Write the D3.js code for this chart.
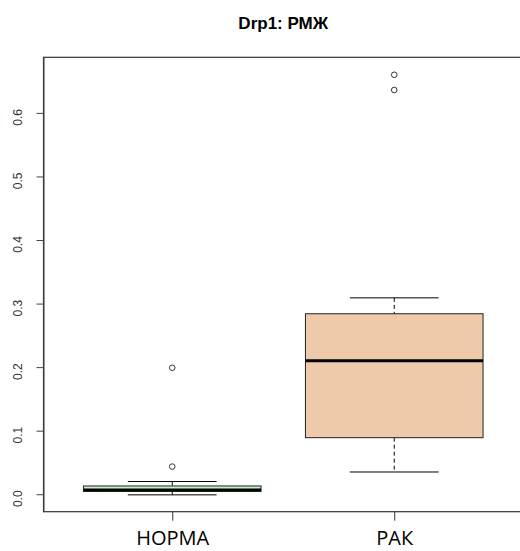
<!DOCTYPE html>
<html>
<head>
<meta charset="utf-8">
<script src="https://cdn.jsdelivr.net/npm/d3@7"></script>
<style>
  body { margin: 0; background: #fff; }
  svg { display: block; }
</style>
</head>
<body>
<svg id="chart" width="520" height="551"></svg>
<script>
// groups and their five-number summaries
const groups = ["НОРМА", "РАК"]
const lowWhisker = [-0.001, 0.035]
const q1 = [0.0045, 0.089]
const medians = [0.0068, 0.210]
const q3 = [0.013, 0.284]
const highWhisker = [0.020, 0.309]
const outliers = [[0.0435, 0.199], [0.636, 0.660]]
const fills = ["#c6f0c0", "#eecaab"]
const yTicks = [0, 0.1, 0.2, 0.3, 0.4, 0.5, 0.6]

const width = 520, height = 551
const padLeft = 43.5, padRight = 523, padTop = 57.3, padBottom = 511.7

const svg = d3.select("#chart")

// R style: data range plus 4% on each side
const ymin = -0.001, ymax = 0.661
const ext = (ymax - ymin) * 0.04
const y = d3.scaleLinear().domain([ymin - ext, ymax + ext]).range([padBottom, padTop])
const x = d3.scaleLinear().domain([0.42, 2.58]).range([padLeft, padRight])

const boxW = x(1.4) - x(1)   // half width of a box
const capW = boxW / 2

// title
svg.append("text")
  .attr("x", (padLeft + padRight) / 2)
  .attr("y", 29)
  .attr("text-anchor", "middle")
  .attr("font-family", "Liberation Sans, Arial, sans-serif")
  .attr("font-weight", "bold")
  .attr("font-size", 17)
  .text("Drp1: РМЖ")

// frame
svg.append("rect")
  .attr("x", padLeft).attr("y", padTop)
  .attr("width", padRight - padLeft).attr("height", padBottom - padTop)
  .attr("fill", "none").attr("stroke", "#333").attr("stroke-width", 1.2)

// boxes
const g = svg.append("g")
groups.forEach((name, i) => {
  const cx = x(i + 1)
  // whiskers dashed
  g.append("line")
    .attr("x1", cx).attr("x2", cx)
    .attr("y1", y(highWhisker[i])).attr("y2", y(q3[i]))
    .attr("stroke", "#000").attr("stroke-dasharray", "4,3")
  g.append("line")
    .attr("x1", cx).attr("x2", cx)
    .attr("y1", y(q1[i])).attr("y2", y(lowWhisker[i]))
    .attr("stroke", "#000").attr("stroke-dasharray", "4,3")
  // caps
  ;[highWhisker[i], lowWhisker[i]].forEach(v => {
    g.append("line")
      .attr("x1", cx - capW).attr("x2", cx + capW)
      .attr("y1", y(v)).attr("y2", y(v))
      .attr("stroke", "#000")
  })
  g.append("rect")
    .attr("x", cx - boxW).attr("y", y(q3[i]))
    .attr("width", boxW * 2).attr("height", y(q1[i]) - y(q3[i]))
    .attr("fill", fills[i]).attr("stroke", "#222").attr("stroke-width", 1)
  g.append("line")
    .attr("x1", cx - boxW).attr("x2", cx + boxW)
    .attr("y1", y(medians[i])).attr("y2", y(medians[i]))
    .attr("stroke", "#000").attr("stroke-width", 3)
  // outliers
  g.selectAll(null).data(outliers[i]).enter().append("circle")
    .attr("cx", cx).attr("cy", d => y(d)).attr("r", 2.8)
    .attr("fill", "none").attr("stroke", "#333").attr("stroke-width", 1)
})

// y axis
const yAxis = svg.append("g").attr("transform", `translate(${padLeft},0)`)
  .call(d3.axisLeft(y).tickValues(yTicks).tickFormat(d3.format(".1f")).tickSize(7).tickSizeOuter(0))
yAxis.select(".domain").attr("stroke", "#444")
yAxis.selectAll(".tick line").attr("stroke", "#444")
yAxis.selectAll(".tick text")
  .attr("font-family", "Liberation Sans, Arial, sans-serif")
  .attr("font-size", 12)
  .attr("fill", "#333")
  .attr("x", 0).attr("dy", 0)
  .attr("text-anchor", "middle")
  .attr("transform", "translate(-22,4) rotate(-90)")

// x axis
const xAxis = svg.append("g").attr("transform", `translate(0,${padBottom})`)
  .call(d3.axisBottom(x).tickValues([1, 2]).tickFormat((d, i) => groups[i]).tickSize(9).tickSizeOuter(0))
xAxis.select(".domain").remove()
xAxis.selectAll(".tick line").attr("stroke", "#333")
xAxis.selectAll(".tick text")
  .attr("font-family", "Open Sans, sans-serif")
  .attr("font-size", 20)
  .attr("fill", "#000")
  .attr("dy", 0)
  .attr("y", 33)
</script>
</body>
</html>
